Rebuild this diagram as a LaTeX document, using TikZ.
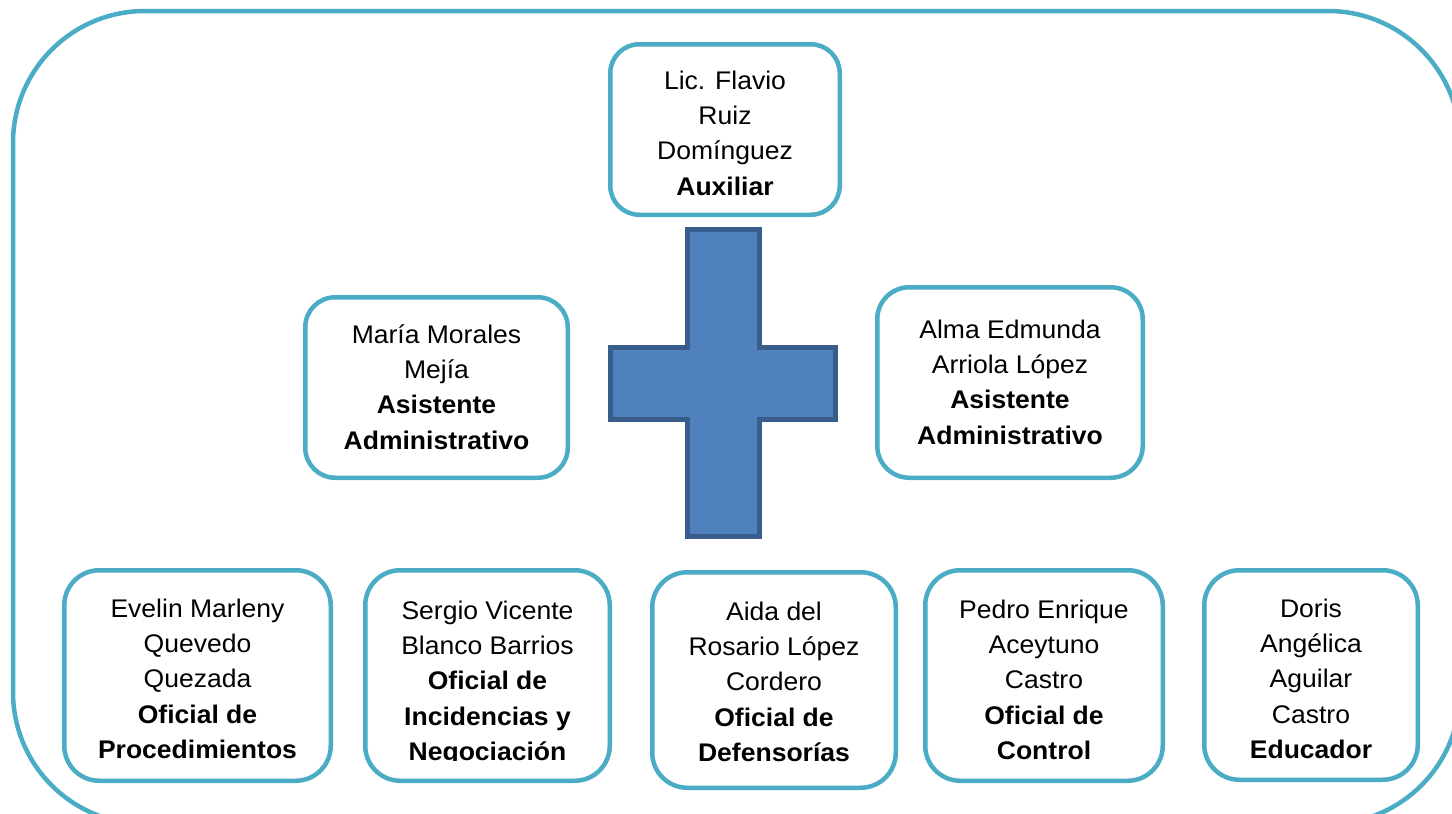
\documentclass[tikz,border=0pt]{standalone}
\usepackage{fontspec}
\setmainfont[FakeStretch=1.04]{Liberation Sans}
\definecolor{aqua}{RGB}{75,172,198}
\definecolor{crossfill}{RGB}{79,129,189}
\definecolor{crossline}{RGB}{56,93,138}
\begin{document}
\begin{tikzpicture}[x=1pt,y=-1pt,
  box/.style={draw=aqua,line width=4.5pt,fill=white,inner sep=0pt},
  txt/.style={align=center,anchor=north,inner sep=0pt,font=\fontsize{25.5}{35.3}\selectfont}]
\useasboundingbox (0,0) rectangle (1452,814);
% outer frame
\draw[aqua,line width=4.5pt,rounded corners=132pt] (13,11) rectangle (1460,824);
% cross
\draw[fill=crossfill,draw=crossline,line width=5pt,line join=miter]
  (687.5,229.5) -- (759.5,229.5) -- (759.5,347.5) -- (835.5,347.5) -- (835.5,419.5)
  -- (759.5,419.5) -- (759.5,536.5) -- (687.5,536.5) -- (687.5,419.5) -- (610.5,419.5)
  -- (610.5,347.5) -- (687.5,347.5) -- cycle;
% boxes
\node[box,minimum width=229.5pt,minimum height=170.5pt,rounded corners=29pt] (b0) at (725,129.5) {};
\node[box,minimum width=262.5pt,minimum height=180.5pt,rounded corners=30pt] (b1) at (436.5,387.5) {};
\node[box,minimum width=265.5pt,minimum height=190.5pt,rounded corners=32pt] (b2) at (1010,382.5) {};
\node[box,minimum width=266.5pt,minimum height=210.5pt,rounded corners=35pt] (c1) at (197.5,675.5) {};
\node[box,minimum width=244.5pt,minimum height=210.5pt,rounded corners=35pt] (c2) at (487.5,675.5) {};
\node[box,minimum width=243.5pt,minimum height=215.5pt,rounded corners=35pt] (c3) at (774,680) {};
\node[box,minimum width=237.5pt,minimum height=210.5pt,rounded corners=35pt] (c4) at (1044,675.5) {};
\node[box,minimum width=213.5pt,minimum height=209.5pt,rounded corners=35pt] (c5) at (1311,675) {};
% texts
\node[txt] (t0) at (725,64.3) {\strut Lic. Flavio\\Ruiz\\Domínguez\\\textbf{Auxiliar}};
\node[txt] (t1) at (436.5,318.3) {\strut María Morales\\Mejía\\\textbf{Asistente}\\\textbf{Administrativo}};
\node[txt] (t2) at (1010,313.3) {\strut Alma Edmunda\\Arriola López\\\textbf{Asistente}\\\textbf{Administrativo}};
\node[txt] (u1) at (197.5,592.3) {\strut Evelin Marleny\\Quevedo\\Quezada\\\textbf{Oficial de}\\\textbf{Procedimientos}};
\begin{scope}
\clip (363,560) rectangle (612,760);
\node[txt] (u2) at (487.5,594.3) {\strut Sergio Vicente\\Blanco Barrios\\\textbf{Oficial de}\\\textbf{Incidencias y}\\\textbf{Negociación}};
\end{scope}
\node[txt] (u3) at (774,595.3) {\strut Aida del\\Rosario López\\Cordero\\\textbf{Oficial de}\\\textbf{Defensorías}};
\node[txt] (u4) at (1044,593.3) {\strut Pedro Enrique\\Aceytuno\\Castro\\\textbf{Oficial de}\\\textbf{Control}};
\node[txt] (u5) at (1311,592.3) {\strut Doris\\Angélica\\Aguilar\\Castro\\\textbf{Educador}};
\end{tikzpicture}
\end{document}
